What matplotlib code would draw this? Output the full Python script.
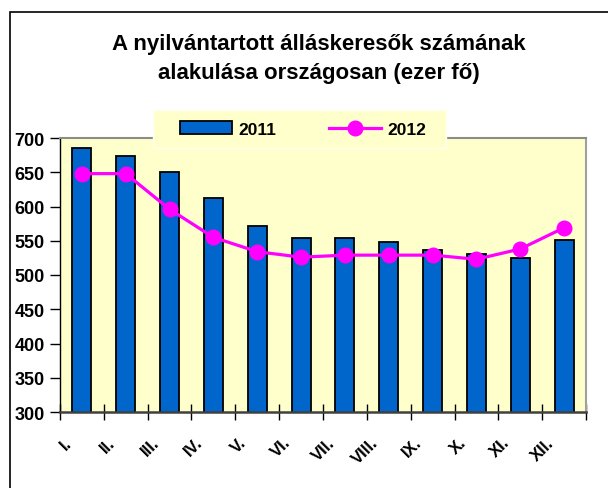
import numpy as np
import matplotlib
matplotlib.use("Agg")
import matplotlib.pyplot as plt
from matplotlib.patches import Rectangle
from matplotlib.transforms import ScaledTranslation

# data (thousand persons)
months = ["I.", "II.", "III.", "IV.", "V.", "VI.", "VII.", "VIII.", "IX.", "X.", "XI.", "XII."]
y2011 = [685, 674, 651, 612, 571, 554, 554, 548, 537, 531, 525, 551]
y2012 = [648, 648, 596, 555, 534, 526, 529, 529, 529, 523, 538, 569]

plt.rcParams['font.family'] = ['Liberation Sans', 'DejaVu Sans']
plt.rcParams['font.weight'] = 'bold'

fig = plt.figure(figsize=(6.08, 4.89), dpi=100)
fig.patch.set_facecolor('white')
ax = fig.add_axes([60/608, 1 - 413/489, 526/608, 274/489])
ax.set_facecolor('#FFFFCC')

x = np.arange(len(months))
bars = ax.bar(x, y2011, width=0.43, color='#0066CC', edgecolor='black', linewidth=1.3,
              label='2011', zorder=2)
line, = ax.plot(x, y2012, color='#FF00FF', lw=2.3, marker='o', ms=10.5,
                label='2012', zorder=3)

ax.set_xlim(-0.5, len(months) - 0.5)
ax.set_ylim(300, 700)
ax.set_yticks(np.arange(300, 701, 50))

# category boundary ticks, labels at the category centres
ax.set_xticks(np.arange(-0.5, len(months), 1))
ax.set_xticklabels([])
ax.tick_params(axis='x', which='major', direction='inout', length=11, width=1, color='black')
ax.set_xticks(x, minor=True)
ax.set_xticklabels(months, minor=True, rotation=45, ha='right', va='center',
                   rotation_mode='anchor', fontsize=12, fontweight='bold')
ax.tick_params(axis='x', which='minor', length=0, pad=20)
offset = ScaledTranslation(-0.13, 0, fig.dpi_scale_trans)
for lab in ax.get_xticklabels(minor=True):
    lab.set_transform(lab.get_transform() + offset)

ax.tick_params(axis='y', direction='out', length=7, width=1, pad=4, labelsize=13)
for lab in ax.get_yticklabels():
    lab.set_fontweight('bold')

ax.spines['left'].set_color('black')
ax.spines['left'].set_linewidth(1)
ax.spines['bottom'].set_color('#404040')
ax.spines['bottom'].set_linewidth(1.8)
ax.spines['top'].set_color('#8c8c8c')
ax.spines['top'].set_linewidth(1.5)
ax.spines['right'].set_color('#a0a0a0')
ax.spines['right'].set_linewidth(1.5)

# outer chart frame
fig.patches.append(Rectangle((10/608, -0.1), 1.2, 1 - 13/489 + 0.1, transform=fig.transFigure,
                             fill=False, edgecolor='black', linewidth=1.2))

# legend background box
fig.patches.append(Rectangle((153/608, 1 - 149/489), 293/608, 38/489, transform=fig.transFigure,
                             facecolor='#FFFFCC', edgecolor='#FFFFF0', linewidth=1, zorder=4))
fig.legend([bars, line], ['2011', '2012'], loc='center', bbox_to_anchor=(303/608, 1 - 130/489),
           ncol=2, frameon=False, prop={'weight': 'bold', 'size': 12.5}, handlelength=3.0,
           handleheight=0.75, handletextpad=0.4, columnspacing=3.0)

fig.text(319/608, 1 - 59/489,
         "A nyilvántartott álláskeresők számának\nalakulása országosan (ezer fő)",
         ha='center', va='center', fontsize=16, fontweight='bold', linespacing=1.5)

fig.savefig('out.png', dpi=100)
